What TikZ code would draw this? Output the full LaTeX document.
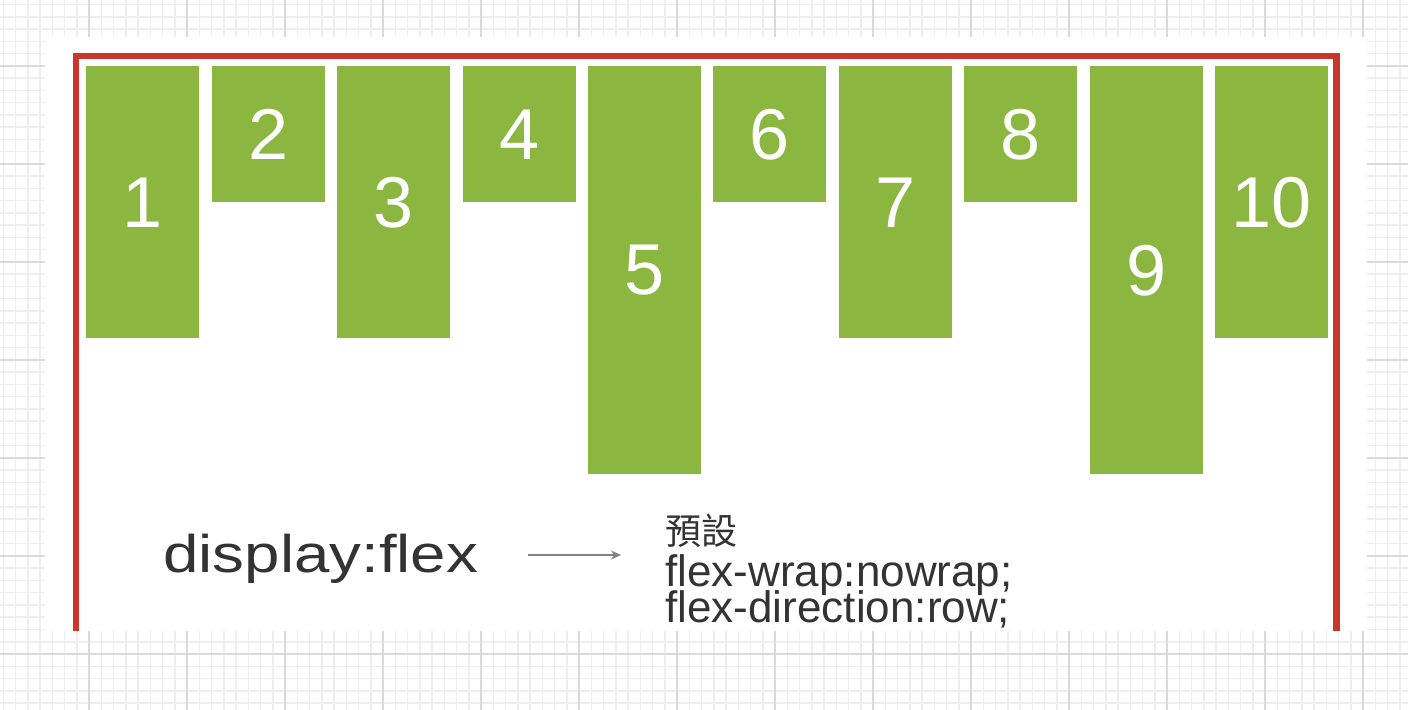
\documentclass[tikz,border=0pt]{standalone}
\usepackage{fontspec}
\setmainfont{Liberation Sans}
\newfontfamily\cjkfont{Noto Sans CJK TC}
\usetikzlibrary{arrows.meta, positioning}

\definecolor{itemgreen}{RGB}{139,183,64}
\definecolor{boxred}{RGB}{203,54,44}
\definecolor{inkgray}{RGB}{51,51,51}
\definecolor{arrowgray}{RGB}{128,128,128}
\definecolor{gridlight}{RGB}{238,238,238}
\definecolor{griddark}{RGB}{218,218,218}

\tikzset{
  gridminor/.style={gridlight, line width=0.75pt},
  gridmajor/.style={griddark, line width=0.75pt},
  flexitem/.style={fill=itemgreen, text=white, anchor=north west, inner sep=0pt,
    minimum width=56.5pt, font=\fontsize{36}{36}\selectfont},
  codetext/.style={text=inkgray, inner sep=0pt, anchor=base west,
    font=\fontsize{22}{22}\selectfont},
}

\begin{document}
\begin{tikzpicture}[x=0.5pt, y=-0.5pt, >={Stealth[length=5pt,width=4.5pt]}]
  \useasboundingbox (0,0) rectangle (1408,710);
  % background grid
  \fill[white] (0,0) rectangle (1408,710);
  \foreach \i in {0,...,114}
    \draw[gridminor] ({3.25+12.25*\i},0) -- ++(0,710);
  \foreach \j in {0,...,57}
    \draw[gridminor] (0,{4.75+12.25*\j}) -- ++(1408,0);
  \foreach \i in {0,...,13}
    \draw[gridmajor] ({89+98*\i},0) -- ++(0,710);
  \foreach \j in {0,...,6}
    \draw[gridmajor] (0,{66+98*\j}) -- ++(1408,0);

  % sheet and flex container
  \fill[white] (45,37) rectangle (1367,631);
  \draw[boxred, line width=3.25pt] (76,631) -- (76,56) -- (1336.5,56) -- (1336.5,631);

  % flex items
  \foreach \n/\h in {1/272,2/136,3/272,4/136,5/408,6/136,7/272,8/136,9/408,10/272}
    \node[flexitem, minimum height=\h*0.5pt] (item\n) at ({86+125.4*(\n-1)},66) {\n};

  % caption
  \node[text=inkgray, inner sep=0pt, anchor=base west, font=\fontsize{26.5}{26.5}\selectfont]
    (disp) at (163,573) {\scalebox{1.2}[1]{display:flex}};
  \node[text=inkgray, inner sep=0pt, anchor=base west, font=\cjkfont\fontsize{18}{18}\selectfont]
    (defaultlbl) at (665,545) {預設};
  \node[codetext] (wraplbl) at (665,587) {flex-wrap:nowrap;};
  \node[codetext] (dirlbl) at (665,623) {flex-direction:row;};

  \coordinate (arrowtail) at (528,555);
  \coordinate (arrowtip) at (621,555);
  \draw[->, arrowgray, line width=0.75pt] (arrowtail) -- (arrowtip);
\end{tikzpicture}
\end{document}
